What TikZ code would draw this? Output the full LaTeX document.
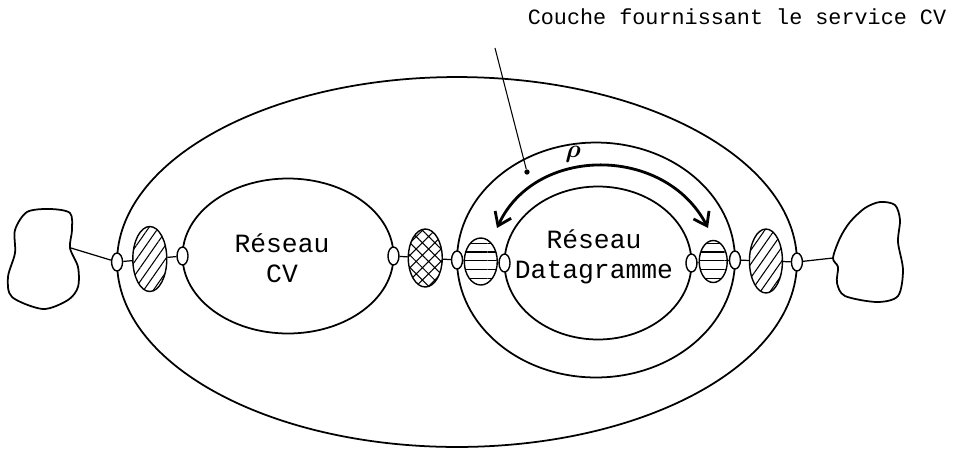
\documentclass[tikz,border=0pt]{standalone}
\usepackage{amsmath}
\usepackage{fontspec}
\newfontfamily\machine{Liberation Mono}
\usetikzlibrary{calc}
\usetikzlibrary{shapes.geometric,patterns.meta}
\usetikzlibrary{arrows.meta}

\begin{document}
\begin{tikzpicture}[x=0.02cm,y=-0.02cm,
    reseau/.style={draw,ellipse,line width=1pt,inner sep=0pt,outer sep=0pt},
    texte/.style={align=center,inner sep=0pt,font=\machine\fontsize{15}{17}\selectfont},
    junction/.style={draw,ellipse,fill=white,line width=0.8pt,
      minimum width=0.22cm,minimum height=0.36cm,inner sep=0pt},
    relais/.style={draw,ellipse,line width=0.8pt,inner sep=0pt},
    obliques/.style={relais,pattern={Lines[angle=55,distance=4.5pt,line width=0.6pt]}},
    croises/.style={relais,pattern={Hatch[angle=45,distance=5pt,line width=0.6pt]}},
    rayes/.style={relais,pattern={Lines[angle=0,distance=5pt,line width=0.7pt]}},
    fil/.style={line width=0.7pt},
    fleche/.style={line width=1.6pt,{Straight Barb[length=7pt,width=10pt]}-{Straight Barb[length=7pt,width=10pt]}}]
   \useasboundingbox (0,0) rectangle (974,454);

    % les grandes enveloppes
    \node[reseau,minimum width=13.6cm,minimum height=7.4cm] (couche) at (457,262) {};
    \node[reseau,minimum width=4.22cm,minimum height=3.1cm] (cv) at (288,256) {};
    \node[reseau,minimum width=5.56cm,minimum height=4.7cm] (anneau) at (596,260) {};
    \node[reseau,minimum width=3.74cm,minimum height=3.06cm] (dg) at (598,263) {};
    \node[texte] (cvtxt) at (282,258) {R\'eseau\\CV};
    \node[texte] (dgtxt) at (594,257) {R\'eseau\\Datagramme};

    % les deux nuages
    \draw[line width=1pt] plot[smooth cycle] coordinates {(27,212) (50,209) (70,213)
      (72,230) (70,248) (78,267) (78,287) (68,300) (43,309) (12,297) (8,277)
      (15,253) (15,230)};
    \draw[line width=1pt] plot[smooth cycle] coordinates {(833,258) (840,238) (850,222)
      (865,208) (880,202) (895,205) (900,220) (898,242) (903,270) (898,296)
      (877,302) (845,296) (837,283) (838,267)};
    \coordinate (lc) at (71,248);
    \coordinate (rc) at (833,258);

    % les relais hachures
    \node[obliques,minimum width=0.68cm,minimum height=1.3cm] (h1) at ($(couche.west)!0.5!(cv.west)$) {};
    \node[croises,minimum width=0.68cm,minimum height=1.16cm] (h2) at ($(cv.east)!0.5!(anneau.west)$) {};
    \node[rayes,minimum width=0.66cm,minimum height=0.94cm] (h3) at ($(anneau.west)!0.5!(dg.west)$) {};
    \node[rayes,minimum width=0.56cm,minimum height=0.84cm] (h4) at ($(dg.east)!0.5!(anneau.east)$) {};
    \node[obliques,minimum width=0.66cm,minimum height=1.28cm] (h5) at ($(anneau.east)!0.5!(couche.east)$) {};

    % petits points de jonction
    \node[junction] (j1) at (couche.west) {};
    \node[junction] (j2) at (cv.west) {};
    \node[junction] (j3) at (cv.east) {};
    \node[junction] (j4) at (anneau.west) {};
    \node[junction] (j5) at (dg.west) {};
    \node[junction] (j6) at (dg.east) {};
    \node[junction] (j7) at (anneau.east) {};
    \node[junction] (j8) at (couche.east) {};

    % liaisons
    \draw[fil] (lc) -- (j1);
    \draw[fil] (j1) -- (h1);
    \draw[fil] (h1) -- (j2);
    \draw[fil] (j3) -- (h2);
    \draw[fil] (h2) -- (j4);
    \draw[fil] (j4) -- (h3);
    \draw[fil] (h3) -- (j5);
    \draw[fil] (j6) -- (h4);
    \draw[fil] (h4) -- (j7);
    \draw[fil] (j7) -- (h5);
    \draw[fil] (h5) -- (j8);
    \draw[fil] (j8) -- (rc);

    % legende et fleche rho
    \node[font=\machine\fontsize{12.4}{14}\selectfont] (titre) at (737,17) {Couche fournissant le service CV};
    \coordinate (ptr) at (495,48);
    \node[circle,fill,inner sep=0pt,minimum size=3pt] (pt) at (527,172) {};
    \draw[line width=0.6pt] (ptr) -- (pt);
    \coordinate (rg) at (497,228);
    \coordinate (rd) at (708,228);
    \draw[fleche] (rg) .. controls (535,145) and (665,145) .. (rd);
    \node[font=\Large] (rho) at (573,154) {$\boldsymbol{\rho}$};

\end{tikzpicture}
\end{document}
